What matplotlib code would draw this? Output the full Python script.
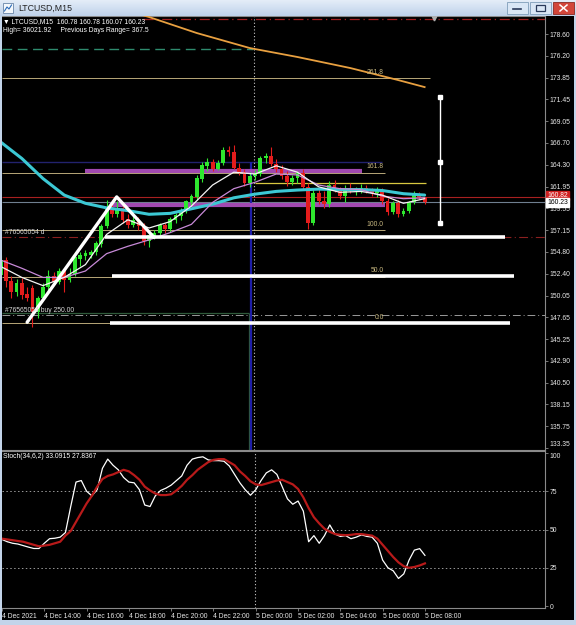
import matplotlib
matplotlib.use("Agg")
import matplotlib.pyplot as plt
from matplotlib.patches import Rectangle
from matplotlib.lines import Line2D
from matplotlib.colors import LinearSegmentedColormap
import numpy as np

plt.rcParams['font.family'] = ['Liberation Sans', 'DejaVu Sans']

# ---------------- data ----------------
symbol_title = "LTCUSD,M15"
header_line1 = "\u25bc LTCUSD,M15  160.78 160.78 160.07 160.23"
header_line2 = "High= 36021.92     Previous Days Range= 367.5"
stoch_title = "Stoch(34,6,2) 33.0915 27.8367"
order_text_1 = "#76565054 d"
order_text_2 = "#76565054 buy 250.00"

bar_index = list(range(81))
opens = [152.3, 153.9, 151.6, 150.4, 151.4, 150.2, 150.8, 148.2, 149.8, 151.0,
         152.2, 151.5, 152.7, 151.7, 152.4, 154.0, 154.3, 154.5, 154.8, 155.6,
         157.6, 159.5, 158.9, 159.6, 158.4, 157.7, 158.2, 157.6, 156.0, 156.5,
         156.9, 157.7, 157.3, 158.3, 158.7, 159.3, 160.2, 160.8, 162.8, 164.2,
         164.6, 163.9, 164.5, 165.9, 165.7, 164.0, 163.5, 162.3, 163.1, 163.3,
         165.0, 165.3, 164.4, 163.8, 163.1, 162.4, 162.9, 163.4, 161.9, 158.0,
         161.2, 160.4, 160.0, 162.1, 161.5, 160.9, 161.8, 161.4, 161.6, 161.8,
         161.4, 161.2, 161.6, 160.3, 159.2, 160.1, 158.9, 159.3, 160.2, 161.1,
         160.78]
highs = [154.5, 154.2, 152.2, 151.8, 151.9, 151.0, 151.2, 150.0, 151.4, 152.8,
         152.6, 153.0, 153.0, 153.0, 154.5, 154.8, 155.0, 155.0, 156.0, 157.8,
         160.5, 160.5, 160.3, 160.2, 158.9, 158.7, 158.6, 157.9, 156.8, 157.2,
         158.0, 158.0, 158.6, 159.0, 159.6, 160.5, 161.1, 163.2, 164.6, 165.0,
         164.9, 164.8, 166.2, 166.4, 166.5, 164.5, 163.8, 163.5, 163.7, 165.3,
         165.6, 166.3, 164.9, 164.3, 163.6, 163.2, 163.6, 163.8, 162.3, 161.6,
         161.8, 161.4, 162.5, 162.6, 161.9, 162.1, 162.3, 161.9, 162.2, 162.1,
         161.8, 161.9, 161.8, 160.7, 160.4, 160.5, 159.6, 160.4, 161.4, 161.3,
         160.78]
lows = [151.8, 151.0, 149.8, 150.0, 149.6, 149.4, 146.6, 147.6, 149.6, 150.5,
        151.2, 151.3, 150.4, 151.5, 152.2, 153.3, 153.9, 154.1, 154.4, 155.3,
        157.4, 158.6, 158.6, 158.0, 157.4, 157.5, 157.2, 155.5, 155.3, 156.2,
        156.6, 156.9, 157.0, 158.0, 158.3, 159.0, 159.9, 160.5, 162.4, 163.6,
        163.6, 163.7, 164.3, 165.3, 163.8, 163.2, 162.0, 161.9, 162.6, 163.1,
        164.5, 164.2, 163.5, 162.8, 162.0, 162.1, 162.3, 161.6, 157.3, 157.7,
        160.0, 159.6, 159.7, 161.3, 160.6, 160.2, 161.2, 161.0, 161.2, 161.2,
        160.9, 160.8, 160.0, 158.8, 158.9, 158.6, 158.7, 159.0, 160.0, 160.6,
        160.07]
closes = [153.9, 151.6, 150.4, 151.4, 150.1, 149.8, 148.2, 149.8, 151.0, 152.2,
          151.5, 152.7, 151.7, 152.4, 154.2, 154.5, 154.7, 154.8, 155.8, 157.6,
          159.5, 158.9, 159.6, 158.3, 157.7, 158.3, 157.6, 156.0, 156.6, 156.9,
          157.7, 157.3, 158.4, 158.8, 159.4, 160.3, 160.9, 162.9, 164.3, 164.6,
          163.9, 164.5, 165.9, 165.7, 164.0, 163.5, 162.3, 163.1, 163.3, 165.0,
          165.3, 164.4, 163.8, 163.1, 162.4, 162.9, 163.4, 161.9, 158.0, 161.2,
          160.4, 160.0, 162.1, 161.5, 160.9, 161.8, 161.4, 161.6, 161.8, 161.4,
          161.2, 161.6, 160.3, 159.2, 160.1, 158.9, 159.3, 160.2, 161.1, 160.8,
          160.23]

ma_idx = [0, 4, 8, 12, 16, 20, 24, 28, 32, 36, 40, 44, 48, 52, 56, 60, 64, 68, 72, 76, 80]
ma_fast = [153.2, 152.0, 151.1, 152.0, 153.4, 156.7, 158.3, 157.4, 158.1, 159.8, 162.1,
           163.5, 163.3, 164.2, 163.5, 161.9, 161.3, 161.4, 161.0, 160.1, 160.6]
ma_slow = [153.9, 153.0, 152.0, 152.0, 152.7, 154.6, 155.4, 156.1, 156.9, 157.8, 160.2,
           161.7, 162.4, 163.3, 163.2, 162.1, 161.7, 161.6, 160.9, 160.6, 160.7]
ma_cyan = [166.8, 165.0, 162.8, 161.0, 160.1, 159.6, 159.3, 158.9, 159.0, 159.5, 160.0,
           160.7, 161.1, 161.4, 161.55, 161.65, 161.6, 161.6, 161.5, 161.15, 161.0]
orange_idx = [20, 28, 37, 47, 56, 66, 75, 80]
orange_vals = [181.8, 180.46, 178.71, 177.07, 176.09, 174.88, 173.57, 172.8]

fib_labels = ["0.0", "50.0", "100.0", "161.8", "261.8"]
fib_prices = [147.0, 152.1, 157.2, 163.45, 173.75]
fib_ends = [72.5, 72.5, 72.5, 72.5, 81.0]

thick_prices = [156.4, 152.15, 147.0]
thick_starts = [19.7, 21.0, 20.6]
thick_ends = [95.2, 96.9, 96.1]

zigzag_idx = [5.0, 21.9, 28.9]
zigzag_vals = [147.1, 160.8, 156.4]

magenta_prices = [163.6, 159.9]
magenta_starts = [15.9, 21.0]
magenta_ends = [68.2, 72.5]

ibar_idx = 82.9
ibar_vals = [171.7, 164.6, 157.9]

stoch_main = [43.5, 42, 41, 40.5, 39.5, 38.5, 37.6, 37.6, 41, 44,
              44.3, 45, 48, 65, 81, 82, 75, 72, 76, 90,
              96, 92, 89, 84, 81, 80.5, 76, 66, 65, 72,
              75.5, 77, 79, 82, 85, 92, 96, 97, 97.5, 95.5,
              95, 95, 94.6, 91.5, 86, 80.5, 76, 72.4, 76, 82,
              87, 89, 86, 78, 70, 66.5, 68.6, 62, 42, 46,
              41, 46, 53, 47, 45.5, 46, 44, 45, 46.5, 45.5,
              45, 41, 30, 25, 23, 18, 21, 30, 36.5, 37.5,
              33.09]
stoch_signal = [44, 43.5, 43, 42.5, 42, 41, 40, 39, 39.5, 40,
                41, 42, 46, 49, 55, 61, 67, 72, 78, 83,
                85, 86, 87.5, 89, 88, 85.5, 82.5, 78, 75.5, 73.5,
                72.5, 72.5, 73, 75.5, 78.5, 82.5, 85.5, 89, 91.5, 94,
                95.5, 96, 96, 94, 92, 88, 85, 81.5, 79.5, 79,
                80, 81, 82, 82.5, 81, 79.5, 76.5, 71, 64, 58,
                54, 50.5, 48.5, 47, 46.5, 46.3, 46.5, 47, 47, 46.5,
                46, 44, 40, 36, 32, 28.5, 26, 25, 25.5, 26.5,
                27.84]

date_idx = [0, 8, 16, 24, 32, 40, 48, 56, 64, 72, 80]
date_labels = ["4 Dec 2021", "4 Dec 14:00", "4 Dec 16:00", "4 Dec 18:00", "4 Dec 20:00",
               "4 Dec 22:00", "5 Dec 00:00", "5 Dec 02:00", "5 Dec 04:00", "5 Dec 06:00",
               "5 Dec 08:00"]
price_labels = ["178.60", "176.20", "173.85", "171.45", "169.05", "166.70", "164.30",
                "161.95", "159.55", "157.15", "154.80", "152.40", "150.05", "147.65",
                "145.25", "142.90", "140.50", "138.15", "135.75", "133.35"]
stoch_levels = [100, 75, 50, 25, 0]
bid_price = 160.23
ask_price = 160.82

# ---------------- layout ----------------
W, H = 576, 625
def fx(x): return x / W
def fy(y): return 1 - y / H

fig = plt.figure(figsize=(W / 100, H / 100), dpi=100, facecolor='black')

XL = 0.26
XR = XL + 543 / 5.3
YTOP = 180.57
YBOT = YTOP - 434 / 9.15

ax = fig.add_axes([fx(2), fy(450), 543 / W, 434 / H], facecolor='black')
ax2 = fig.add_axes([fx(2), fy(608), 543 / W, 157 / H], facecolor='black')

FS = 4.9
GRAY = '#8a8a8a'

for a in (ax, ax2):
    a.set_xlim(XL, XR)
    for s in ('top', 'right', 'bottom'):
        a.spines[s].set_color(GRAY)
        a.spines[s].set_linewidth(0.8)
    a.spines['left'].set_visible(False)
    a.yaxis.tick_right()
    a.tick_params(axis='y', colors=GRAY, labelcolor='#e8e8e8', labelsize=FS,
                  length=2, width=0.6, pad=1.5)

ax.set_ylim(YBOT, YTOP)
ax.set_xticks([])
ax.set_yticks(np.linspace(178.6, 133.35, len(price_labels)), price_labels)
ax.get_yticklabels()[-1].set_va('bottom')

# horizontal lines
ax.hlines(180.25, 26.9, XR, color='#a02020', lw=0.9, ls=(0, (8, 3, 1, 3)), zorder=1)
ax.plot([81.8], [180.35], marker='v', ms=3.5, color='#b0b0b0', zorder=6, clip_on=False)
ax.hlines(176.96, XL, 47.6, color='#2e8b6e', lw=1.0, ls=(0, (7, 4)), zorder=1)
ax.hlines(164.6, XL, 72.0, color='#22226e', lw=1.0, zorder=1)
ax.hlines(162.3, 48.0, 80.3, color='#d8c840', lw=0.9, zorder=1)
ax.hlines(ask_price, XL, XR, color='#a82020', lw=0.8, zorder=1)
ax.hlines(bid_price, XL, XR, color='#6f7f90', lw=0.8, zorder=1)
ax.hlines(156.4, XL, XR, color='#8b2020', lw=0.8, ls=(0, (8, 3, 1, 3)), zorder=1)
ax.hlines(147.9, XL, XR, color='#9a9a9a', lw=0.7, ls=(0, (8, 3, 1, 3)), zorder=1)

for lab, p, e in zip(fib_labels, fib_prices, fib_ends):
    ax.hlines(p, XL, e, color='#b8a878', lw=0.7, zorder=1)
    ax.text(72.3, p + 0.25, lab, color='#c8b880', fontsize=FS, ha='right', va='bottom', zorder=7)

# rectangle / vertical lines
ax.hlines(148.1, XL, 46.86, color='#2f5a3a', lw=0.9, zorder=1)
ax.vlines(46.86, YBOT, 148.1, color='#2f5a3a', lw=0.9, zorder=1)
ax.vlines(47.2, YBOT, 164.6, color='#1e1ea8', lw=1.6, zorder=1)
for a in (ax, ax2):
    a.axvline(47.9, color='#c8c8c8', lw=0.8, ls=(0, (1, 2)), zorder=2)

# magenta levels
for p, s, e in zip(magenta_prices, magenta_starts, magenta_ends):
    ax.hlines(p, s, e, color='#b050c0', lw=3.0, alpha=0.92, zorder=2)

# candles
bull, bear = '#2ee82e', '#e41c1c'
cols = [bull if c >= o else bear for o, c in zip(opens, closes)]
ax.vlines(bar_index, lows, highs, colors=cols, lw=0.8, zorder=3)
bodies = [max(abs(c - o), 0.1) for o, c in zip(opens, closes)]
bottoms = [min(o, c) for o, c in zip(opens, closes)]
ax.bar(bar_index, bodies, bottom=bottoms, width=0.72, color=cols, lw=0, zorder=3)

# moving averages
ax.plot(orange_idx, orange_vals, color='#e8a040', lw=1.3, zorder=4)
ax.plot(ma_idx, ma_cyan, color='#3cc8d4', lw=2.2, zorder=4, solid_capstyle='round')
ax.plot(ma_idx, ma_slow, color='#c88ad8', lw=0.9, zorder=4)
ax.plot(ma_idx, ma_fast, color='#f4f4f4', lw=0.9, zorder=4)

# thick white levels and zigzag
for p, s, e in zip(thick_prices, thick_starts, thick_ends):
    ax.hlines(p, s, e, color='white', lw=2.6, zorder=5)
ax.plot(zigzag_idx, zigzag_vals, color='white', lw=2.4, zorder=6, solid_capstyle='round')

# I-bar
ax.vlines(ibar_idx, ibar_vals[2], ibar_vals[0], color='white', lw=1.0, zorder=6)
ax.plot([ibar_idx] * 3, ibar_vals, ls='none', marker='s', ms=2.6, color='white', zorder=6)

# ---------------- stochastic ----------------
ax2.set_ylim(-1.3, 101.3)
ax2.set_yticks(stoch_levels, [str(v) for v in stoch_levels])
ax2.get_yticklabels()[0].set_va('top')
for lv in (75, 50, 25):
    ax2.axhline(lv, color='#9a9a9a', lw=0.7, ls=(0, (1.5, 2.5)), zorder=1)
ax2.plot(bar_index, stoch_main, color='white', lw=0.9, zorder=3)
ax2.plot(bar_index, stoch_signal, color='#b81a1a', lw=1.6, zorder=4)
ax2.set_xticks(date_idx, date_labels)
ax2.tick_params(axis='x', colors=GRAY, labelcolor='#e8e8e8', labelsize=FS, length=2,
                width=0.6, pad=1.5)
for t in ax2.get_xticklabels():
    t.set_ha('left')

# ---------------- texts ----------------
fig.text(fx(3), fy(22), header_line1, color='white', fontsize=FS, va='center', ha='left')
fig.text(fx(3), fy(31), header_line2, color='white', fontsize=FS, va='center', ha='left')
fig.text(fx(5), fy(232), order_text_1, color='#d8d8d8', fontsize=FS, va='center', ha='left')
fig.text(fx(5), fy(310), order_text_2, color='#d8d8d8', fontsize=FS, va='center', ha='left')
fig.text(fx(3), fy(457), stoch_title, color='white', fontsize=FS, va='center', ha='left')

fig.text(fx(547), fy(195.5), f"{ask_price:.2f}", color='white', fontsize=FS, va='center',
         ha='left', bbox=dict(boxstyle='square,pad=0.2', fc='#d02020', ec='#d02020'), zorder=10)
fig.text(fx(547), fy(202.5), f"{bid_price:.2f}", color='black', fontsize=FS, va='center',
         ha='left', bbox=dict(boxstyle='square,pad=0.2', fc='white', ec='white'), zorder=11)

# ---------------- window frame ----------------
tb = fig.add_axes([0, fy(16), 1, 16 / H])
grad = np.linspace(0, 1, 32).reshape(-1, 1)
cm = LinearSegmentedColormap.from_list('tb', ['#e4edf8', '#bfd2ea'])
tb.imshow(grad, aspect='auto', cmap=cm, extent=(0, 1, 0, 1), origin='upper')
tb.set_axis_off()
fig.text(fx(18), fy(8), symbol_title, color='#202020', fontsize=6.3, va='center', ha='left')

def frect(x, y, w, h, fc, ec='none', lw=0.6, z=20):
    fig.add_artist(Rectangle((fx(x), fy(y + h)), w / W, h / H, transform=fig.transFigure,
                             fc=fc, ec=ec, lw=lw, zorder=z))

# icon
frect(3, 3, 10, 10, '#f4f8fc', '#6a86a8')
fig.add_artist(Line2D([fx(4.5), fx(7), fx(9), fx(11.5)], [fy(11), fy(7), fy(9), fy(5)],
                      transform=fig.transFigure, color='#2a6ab8', lw=0.8, zorder=21))
# buttons
frect(507, 2, 21, 12, '#d9e6f5', '#7f9db9')
fig.add_artist(Line2D([fx(513), fx(521)], [fy(9), fy(9)], transform=fig.transFigure,
                      color='#2a3a5a', lw=1.2, zorder=21))
frect(530, 2, 21, 12, '#d9e6f5', '#7f9db9')
frect(536, 5, 9, 6, 'none', '#2a3a5a', lw=0.9, z=21)
frect(553, 2, 21, 12, '#d2463a', '#8a2a22')
fig.add_artist(Line2D([fx(560), fx(567)], [fy(5), fy(11)], transform=fig.transFigure,
                      color='white', lw=1.1, zorder=21))
fig.add_artist(Line2D([fx(560), fx(567)], [fy(11), fy(5)], transform=fig.transFigure,
                      color='white', lw=1.1, zorder=21))
# borders
frect(0, 16, 2, 609, '#c3d4ea', z=19)
frect(574, 16, 2, 609, '#c3d4ea', z=19)
frect(0, 620, 576, 5, '#c3d4ea', z=19)

fig.savefig('out.png', dpi=100, facecolor='black')
